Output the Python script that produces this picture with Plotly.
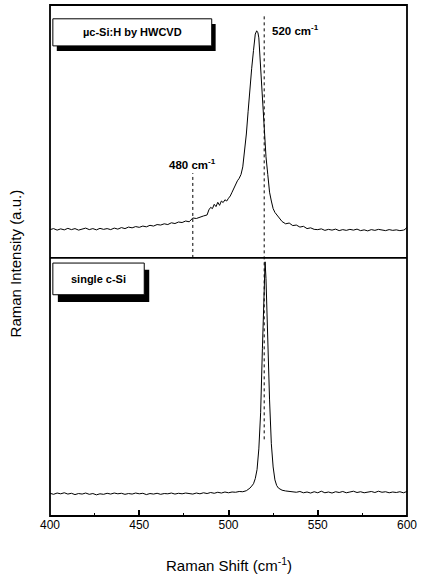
import plotly.graph_objects as go

# --- data: microcrystalline Si (top panel) ---
uc_shift = [400, 402, 404, 406, 408, 410, 412, 414, 416, 418, 420, 422, 424, 426, 428, 430,
            432, 434, 436, 438, 440, 442, 444, 446, 448, 450, 452, 454, 456, 458, 460, 462,
            464, 466, 468, 470, 472, 474, 476, 478, 480, 482, 484, 486, 488, 489, 490, 491,
            492, 493, 494, 495, 496, 497, 498, 499, 500, 501, 502, 503, 504, 505, 506, 507,
            508, 509, 510, 511, 512, 513, 514, 515, 515.8, 516.5, 517, 518, 519, 520, 521,
            522, 523, 524, 525, 526, 527, 528, 529, 530, 532, 534, 536, 538, 540, 542, 544,
            546, 548, 550, 552, 554, 556, 558, 560, 562, 564, 566, 568, 570, 572, 574, 576,
            578, 580, 582, 584, 586, 588, 590, 592, 594, 596, 598, 599, 600]
uc_int = [11.2, 11.6, 11.0, 11.5, 11.1, 11.7, 11.2, 11.6, 11.0, 11.4, 11.8, 11.2, 11.6, 11.1, 11.7, 11.3,
          11.6, 11.2, 11.8, 11.4, 12.0, 11.6, 12.2, 11.9, 12.4, 12.1, 12.6, 12.3, 12.9, 12.6, 13.2, 13.0,
          13.5, 13.2, 13.9, 13.6, 14.2, 14.0, 14.6, 14.3, 15.8, 15.6, 16.2, 16.6, 17.0, 19.0, 20.0, 19.5,
          21.2, 20.3, 22.0, 20.8, 22.5, 21.9, 23.0, 22.5, 23.6, 24.5, 26.0, 27.5, 29.5, 30.5, 31.5, 33.0,
          36.0, 42.0, 49.0, 58.0, 68.0, 75.0, 82.0, 88.5, 89.8, 89.0, 87.0, 76.0, 62.0, 50.0, 40.0,
          33.0, 26.0, 22.5, 19.5, 18.0, 17.0, 16.0, 15.5, 14.4, 13.5, 13.8, 12.8, 13.0, 12.2, 12.5, 11.6,
          11.9, 11.3, 11.2, 11.5, 10.9, 11.3, 11.0, 11.4, 10.8, 11.2, 10.9, 11.3, 11.0, 11.4, 10.8, 11.1,
          10.7, 11.2, 10.9, 11.3, 11.0, 10.8, 11.2, 10.9, 11.1, 10.8, 11.0, 11.3, 12.3]

# --- data: single crystal Si (bottom panel) ---
cs_shift = [400, 402, 404, 406, 408, 410, 412, 414, 416, 418, 420, 422, 424, 426, 428, 430,
            432, 434, 436, 438, 440, 442, 444, 446, 448, 450, 452, 454, 456, 458, 460, 462,
            464, 466, 468, 470, 472, 474, 476, 478, 480, 482, 484, 486, 488, 490, 492, 494,
            496, 498, 500, 502, 504, 506, 508, 510, 511, 512, 513, 514, 515, 516, 517, 518,
            519, 520, 520.5, 521, 522, 523, 524, 525, 526, 527, 528, 530, 532, 534, 536, 538,
            540, 542, 544, 546, 548, 550, 552, 554, 556, 558, 560, 562, 564, 566, 568, 570,
            572, 574, 576, 578, 580, 582, 584, 586, 588, 590, 592, 594, 596, 598, 600]
cs_int = [8.8, 8.4, 8.9, 8.6, 9.0, 8.5, 8.8, 8.3, 8.7, 8.5, 8.9, 8.4, 8.7, 8.2, 8.6, 8.4,
          8.8, 8.5, 8.9, 8.6, 8.8, 8.4, 8.7, 8.5, 8.9, 8.6, 8.8, 8.3, 8.7, 8.5, 8.8, 8.4,
          8.7, 8.6, 8.9, 8.5, 8.8, 8.6, 8.9, 8.7, 8.5, 8.9, 8.6, 9.0, 8.7, 9.1, 8.8, 9.2,
          8.9, 9.3, 9.0, 9.3, 9.2, 9.5, 9.4, 9.8, 10.2, 10.8, 11.6, 12.5, 14.5, 18.0, 26.0, 40.0,
          65.0, 92.0, 98.5, 92.0, 66.0, 45.0, 28.0, 19.0, 14.0, 11.8, 10.8, 10.0, 9.7, 9.5, 9.4, 9.2,
          9.5, 9.0, 9.3, 8.9, 9.4, 9.0, 9.6, 9.0, 9.3, 8.9, 9.4, 9.1, 9.5, 9.0, 9.3, 9.6,
          9.1, 9.4, 9.0, 9.3, 9.5, 9.1, 9.6, 9.2, 9.4, 9.0, 9.3, 9.1, 9.4, 9.0, 9.5]

x_ticks = [400, 450, 500, 550, 600]
ref_lines = [480, 520]
label_top = "µc-Si:H by HWCVD"
label_bottom = "single c-Si"

FONT = "Arial, Liberation Sans, sans-serif"
SPLIT = 0.505

fig = go.Figure()
fig.add_trace(go.Scatter(x=uc_shift, y=uc_int, mode="lines", xaxis="x2", yaxis="y2",
                         line=dict(color="black", width=1), showlegend=False))
fig.add_trace(go.Scatter(x=cs_shift, y=cs_int, mode="lines", xaxis="x", yaxis="y",
                         line=dict(color="black", width=1), showlegend=False))

shapes = []
# reference dotted lines
shapes.append(dict(type="line", xref="x", yref="paper", x0=ref_lines[1], x1=ref_lines[1],
                   y0=0.150, y1=0.979, line=dict(color="black", width=1, dash="dot")))
shapes.append(dict(type="line", xref="x", yref="paper", x0=ref_lines[0], x1=ref_lines[0],
                   y0=SPLIT, y1=0.671, line=dict(color="black", width=1, dash="dot")))
# frame and divider
shapes.append(dict(type="rect", xref="paper", yref="paper", x0=0, x1=1, y0=0, y1=1,
                   line=dict(color="black", width=1.8)))
shapes.append(dict(type="line", xref="paper", yref="paper", x0=0, x1=1, y0=SPLIT, y1=SPLIT,
                   line=dict(color="black", width=1.8)))
# label boxes with shadow
shapes.append(dict(type="rect", xref="paper", yref="paper", x0=0.019, x1=0.464, y0=0.910, y1=0.963,
                   fillcolor="black", line=dict(width=0)))
shapes.append(dict(type="rect", xref="paper", yref="paper", x0=0.008, x1=0.453, y0=0.920, y1=0.973,
                   fillcolor="white", line=dict(color="black", width=1)))
shapes.append(dict(type="rect", xref="paper", yref="paper", x0=0.022, x1=0.278, y0=0.419, y1=0.482,
                   fillcolor="black", line=dict(width=0)))
shapes.append(dict(type="rect", xref="paper", yref="paper", x0=0.008, x1=0.264, y0=0.433, y1=0.495,
                   fillcolor="white", line=dict(color="black", width=1)))

annotations = [
    dict(text="<b>" + label_top + "</b>", xref="paper", yref="paper", x=0.2306, y=0.9465,
         xanchor="center", yanchor="middle",
         showarrow=False, font=dict(family=FONT, size=11, color="black")),
    dict(text="<b>" + label_bottom + "</b>", xref="paper", yref="paper", x=0.136, y=0.464,
         xanchor="center", yanchor="middle",
         showarrow=False, font=dict(family=FONT, size=11, color="black")),
    dict(text="<b>%d cm<sup>-1</sup></b>" % ref_lines[1], xref="paper", yref="paper",
         x=0.615, y=0.951, xanchor="left", yanchor="middle", showarrow=False,
         font=dict(family=FONT, size=11.5, color="black")),
    dict(text="<b>%d cm<sup>-1</sup></b>" % ref_lines[0], xref="x", yref="paper",
         x=ref_lines[0], y=0.688, xanchor="center", yanchor="middle", showarrow=False,
         font=dict(family=FONT, size=11.5, color="black")),
    dict(text="Raman Intensity (a.u.)", xref="paper", yref="paper", x=-0.097, y=0.495,
         xanchor="center", yanchor="middle",
         textangle=-90, showarrow=False, font=dict(family=FONT, size=15, color="black")),
    dict(text="Raman Shift (cm<sup>-1</sup>)", xref="paper", yref="paper", x=0.5, y=-0.094,
         xanchor="center", yanchor="middle",
         showarrow=False, font=dict(family=FONT, size=15, color="black")),
]

fig.update_layout(
    width=422, height=577,
    margin=dict(l=50, r=11, t=5, b=61),
    paper_bgcolor="white", plot_bgcolor="white",
    font=dict(family=FONT, color="black"),
    xaxis=dict(range=[400, 600], domain=[0, 1], anchor="y", tickvals=x_ticks,
               ticks="inside", ticklen=6, tickwidth=1.5, tickcolor="black",
               minor=dict(dtick=25, tick0=400, ticks="inside", ticklen=3, tickwidth=1, tickcolor="black"),
               showgrid=False, zeroline=False, showline=False,
               tickfont=dict(family=FONT, size=12, color="black")),
    yaxis=dict(range=[0, 100], domain=[0, SPLIT], anchor="x", showticklabels=False,
               ticks="", showgrid=False, zeroline=False, showline=False),
    xaxis2=dict(range=[400, 600], domain=[0, 1], anchor="y2", showticklabels=False,
                ticks="", showgrid=False, zeroline=False, showline=False),
    yaxis2=dict(range=[0, 100], domain=[SPLIT, 1], anchor="x2", showticklabels=False,
                ticks="", showgrid=False, zeroline=False, showline=False),
    shapes=shapes,
    annotations=annotations,
)

fig.write_html("out.html", config={"displayModeBar": False, "responsive": False},
               post_script="document.body.style.margin='0';document.body.style.padding='0';"
                           "document.body.style.overflow='hidden';"
                           "document.documentElement.style.overflow='hidden';")
